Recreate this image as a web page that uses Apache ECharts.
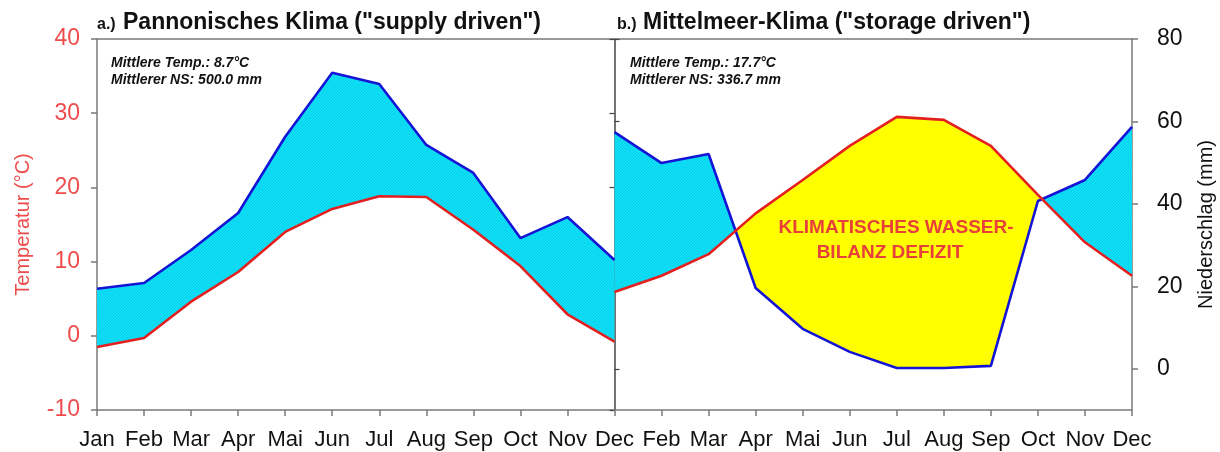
<!DOCTYPE html>
<html>
<head>
<meta charset="utf-8">
<script src="https://cdn.jsdelivr.net/npm/echarts@6/dist/echarts.min.js"></script>
<style>
  html, body { margin: 0; padding: 0; background: #fff; }
  #chart { width: 1220px; height: 452px; }
</style>
</head>
<body>
<div id="chart"></div>
<script>
// Month labels along the shared x axis: panel a (Jan..Dec) then panel b (Feb..Dec, its Jan sits on the divider)
const MONTHS_A = ['Jan', 'Feb', 'Mar', 'Apr', 'Mai', 'Jun', 'Jul', 'Aug', 'Sep', 'Oct', 'Nov', 'Dec'];
const MONTHS_B = ['Feb', 'Mar', 'Apr', 'Mai', 'Jun', 'Jul', 'Aug', 'Sep', 'Oct', 'Nov', 'Dec'];

// a.) Pannonian climate
const tempPannon = [-1.5, -0.3, 4.6, 8.6, 14.0, 17.1, 18.8, 18.7, 14.3, 9.4, 2.9, -0.8];
const precPannon = [19.4, 20.8, 28.8, 37.8, 56.3, 71.8, 69.1, 54.3, 47.5, 31.7, 36.8, 26.4];

// b.) Mediterranean climate
const tempMed = [5.9, 8.1, 11.0, 16.5, 21.0, 25.6, 29.5, 29.1, 25.6, 19.0, 12.6, 8.1];
const precMed = [57.4, 49.9, 52.1, 19.6, 9.7, 4.1, 0.2, 0.2, 0.7, 40.7, 45.8, 58.7];

// Axis ranges
const T_MIN = -10, T_MAX = 40, T_STEP = 10;
const P_MIN = -10, P_MAX = 80;
const P_TICKS = [0, 20, 40, 60, 80];

const FONT = "'Liberation Sans', Arial, Helvetica, sans-serif";
const RED = '#e3201f';
const BLUE = '#1414d6';
const LABEL_RED = '#ee4b4b';
const FRAME = '#7a7a7a';

const xLabels = MONTHS_A.concat(MONTHS_B);

// precipitation value expressed on the temperature axis (both axes share the same pixel span)
function pToT(p) {
  return T_MIN + (p - P_MIN) * (T_MAX - T_MIN) / (P_MAX - P_MIN);
}

// fine diagonal hatching used for the humid area
function makeHatch() {
  const c = document.createElement('canvas');
  c.width = 3; c.height = 3;
  const g = c.getContext('2d');
  g.fillStyle = '#0ee0f8';
  g.fillRect(0, 0, 3, 3);
  g.fillStyle = 'rgba(0,140,180,0.22)';
  g.fillRect(2, 0, 1, 1);
  g.fillRect(1, 1, 1, 1);
  g.fillRect(0, 2, 1, 1);
  return c;
}
const hatch = makeHatch();

// polygons between the precipitation and temperature curves, split where they cross
function areaPolygons(api, x0, temps, precs) {
  const n = temps.length;
  const tp = [], pp = [];
  for (let i = 0; i < n; i++) {
    tp.push(api.coord([x0 + i, temps[i]]));
    pp.push(api.coord([x0 + i, pToT(precs[i])]));
  }
  const polys = [];
  let wet = tp[0][1] - pp[0][1] >= 0;
  let upper = [pp[0]], lower = [tp[0]];
  const flush = () => {
    if (upper.length > 1) polys.push({ wet: wet, pts: upper.concat(lower.slice().reverse()) });
  };
  for (let i = 1; i < n; i++) {
    const dPrev = tp[i - 1][1] - pp[i - 1][1];
    const d = tp[i][1] - pp[i][1];
    if ((dPrev > 0 && d < 0) || (dPrev < 0 && d > 0)) {
      const f = dPrev / (dPrev - d);
      const cx = tp[i - 1][0] + f * (tp[i][0] - tp[i - 1][0]);
      const cy = pp[i - 1][1] + f * (pp[i][1] - pp[i - 1][1]);
      upper.push([cx, cy]); lower.push([cx, cy]);
      flush();
      wet = d > 0;
      upper = [[cx, cy]]; lower = [[cx, cy]];
    }
    upper.push(pp[i]); lower.push(tp[i]);
  }
  flush();
  return polys;
}

const panels = [
  { x0: 0, temps: tempPannon, precs: precPannon },
  { x0: 11, temps: tempMed, precs: precMed }
];

function series_xy(x0, vals) {
  return vals.map((v, i) => [x0 + i, v]);
}

const chart = echarts.init(document.getElementById('chart'), null, { renderer: 'canvas' });

const GRID_L = 97, GRID_R = 88;
const gridWidth = 1220 - GRID_L - GRID_R;
const dividerOffset = -gridWidth * 11 / 22;

const option = {
  animation: false,
  backgroundColor: '#fff',
  textStyle: { fontFamily: FONT },
  grid: { left: GRID_L, right: GRID_R, top: 39, bottom: 42, containLabel: false, outerBoundsMode: 'none' },
  xAxis: [
    {
      type: 'value', min: 0, max: 22, interval: 1, position: 'bottom',
      axisLine: { onZero: false, lineStyle: { color: FRAME, width: 1.5 } },
      axisTick: { length: 6, lineStyle: { color: FRAME, width: 1.5 } },
      splitLine: { show: false },
      axisLabel: {
        margin: 19, color: '#111', fontSize: 22, fontFamily: FONT,
        showMinLabel: true, showMaxLabel: true,
        formatter: v => xLabels[Math.round(v)] || ''
      }
    },
    {
      type: 'value', min: 0, max: 22, position: 'top',
      axisLine: { show: true, onZero: false, lineStyle: { color: FRAME, width: 1.5 } },
      axisTick: { show: false }, axisLabel: { show: false }, splitLine: { show: false }
    }
  ],
  yAxis: [
    {
      type: 'value', min: T_MIN, max: T_MAX, interval: T_STEP, position: 'left',
      axisLine: { show: true, onZero: false, lineStyle: { color: FRAME, width: 1.5 } },
      axisTick: { show: true, length: 6, lineStyle: { color: FRAME, width: 1.5 } },
      splitLine: { show: false },
      axisLabel: { margin: 17, color: LABEL_RED, fontSize: 23, fontFamily: FONT },
      name: 'Temperatur (°C)', nameLocation: 'middle', nameGap: 64, nameRotate: 90,
      nameTextStyle: { color: LABEL_RED, fontSize: 20, fontFamily: FONT }
    },
    {
      type: 'value', min: P_MIN, max: P_MAX, position: 'right',
      axisLine: { show: true, onZero: false, lineStyle: { color: FRAME, width: 1.5 } },
      axisTick: { show: true, length: 6, customValues: P_TICKS, lineStyle: { color: FRAME, width: 1.5 } },
      splitLine: { show: false },
      axisLabel: { margin: 25, color: '#111', fontSize: 23, fontFamily: FONT, customValues: P_TICKS },
      name: 'Niederschlag (mm)', nameLocation: 'middle', nameGap: 64, nameRotate: 90,
      nameTextStyle: { color: '#111', fontSize: 20, fontFamily: FONT }
    },
    {
      // divider between both panels, temperature ticks
      type: 'value', min: T_MIN, max: T_MAX, interval: T_STEP, position: 'left', offset: dividerOffset,
      axisLine: { show: true, onZero: false, lineStyle: { color: '#444', width: 1.5 } },
      axisTick: { show: true, length: 5, lineStyle: { color: '#444', width: 1.2 } },
      axisLabel: { show: false }, splitLine: { show: false }
    },
    {
      // divider between both panels, precipitation ticks
      type: 'value', min: P_MIN, max: P_MAX, position: 'right', offset: dividerOffset,
      axisLine: { show: false, onZero: false },
      axisTick: { show: true, length: 5, customValues: P_TICKS, lineStyle: { color: '#444', width: 1.2 } },
      axisLabel: { show: false }, splitLine: { show: false }
    }
  ],
  series: [
    {
      type: 'custom',
      xAxisIndex: 0, yAxisIndex: 0,
      clip: false, z: 1, silent: true,
      data: [[0, 0], [11, 0]],
      renderItem: function (params, api) {
        const p = panels[params.dataIndex];
        const polys = areaPolygons(api, p.x0, p.temps, p.precs);
        return {
          type: 'group',
          children: polys.map(poly => ({
            type: 'polygon',
            shape: { points: poly.pts },
            style: poly.wet
              ? { fill: { image: hatch, repeat: 'repeat' }, stroke: null }
              : { fill: '#ffff00', stroke: null }
          }))
        };
      }
    },
    {
      name: 'NS a', type: 'line', xAxisIndex: 0, yAxisIndex: 1, z: 3,
      data: series_xy(0, precPannon), symbol: 'none',
      lineStyle: { color: BLUE, width: 2.6 }
    },
    {
      name: 'Temp a', type: 'line', xAxisIndex: 0, yAxisIndex: 0, z: 4,
      data: series_xy(0, tempPannon), symbol: 'none',
      lineStyle: { color: RED, width: 2.6 }
    },
    {
      name: 'NS b', type: 'line', xAxisIndex: 0, yAxisIndex: 1, z: 3,
      data: series_xy(11, precMed), symbol: 'none',
      lineStyle: { color: BLUE, width: 2.6 }
    },
    {
      name: 'Temp b', type: 'line', xAxisIndex: 0, yAxisIndex: 0, z: 4,
      data: series_xy(11, tempMed), symbol: 'none',
      lineStyle: { color: RED, width: 2.6 }
    }
  ],
  graphic: [
    { type: 'text', left: 97, top: 17, style: { text: 'a.)', font: 'bold 16px ' + FONT, fill: '#111' } },
    { type: 'text', left: 123, top: 11, style: { text: 'Pannonisches Klima ("supply driven")', font: 'bold 23px ' + FONT, fill: '#111' } },
    { type: 'text', left: 617, top: 17, style: { text: 'b.)', font: 'bold 16px ' + FONT, fill: '#111' } },
    { type: 'text', left: 643, top: 11, style: { text: 'Mittelmeer-Klima ("storage driven")', font: 'bold 23px ' + FONT, fill: '#111' } },
    { type: 'text', left: 111, top: 56, style: { text: 'Mittlere Temp.: 8.7°C', font: 'italic bold 14px ' + FONT, fill: '#111' } },
    { type: 'text', left: 111, top: 73, style: { text: 'Mittlerer NS: 500.0 mm', font: 'italic bold 14px ' + FONT, fill: '#111' } },
    { type: 'text', left: 630, top: 56, style: { text: 'Mittlere Temp.: 17.7°C', font: 'italic bold 14px ' + FONT, fill: '#111' } },
    { type: 'text', left: 630, top: 73, style: { text: 'Mittlerer NS: 336.7 mm', font: 'italic bold 14px ' + FONT, fill: '#111' } },
    {
      type: 'text', x: 896, y: 228, z: 10,
      style: { text: 'KLIMATISCHES WASSER-', font: 'bold 19px ' + FONT, fill: '#e8403a', textAlign: 'center', textVerticalAlign: 'middle' }
    },
    {
      type: 'text', x: 890, y: 253, z: 10,
      style: { text: 'BILANZ DEFIZIT', font: 'bold 19px ' + FONT, fill: '#e8403a', textAlign: 'center', textVerticalAlign: 'middle' }
    }
  ]
};

chart.setOption(option);
</script>
</body>
</html>
